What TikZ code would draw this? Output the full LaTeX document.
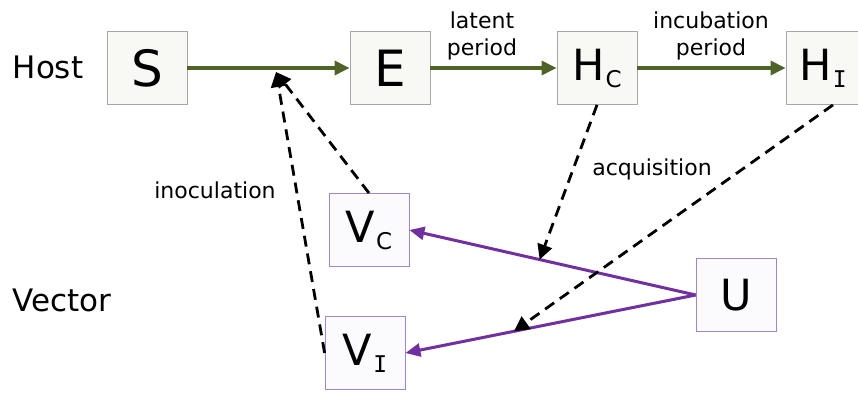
\documentclass[tikz,border=0pt]{standalone}
\usepackage{fontspec}
\setmainfont{DejaVu Sans}
\newfontfamily\subfont{DejaVu Sans Mono}
\usetikzlibrary{arrows.meta,calc}
\definecolor{hostgreen}{RGB}{79,98,40}
\definecolor{vecpurple}{RGB}{112,48,160}
\definecolor{vecedge}{RGB}{160,135,205}
\newcommand{\sbs}[1]{\kern1pt\raisebox{-7pt}{\fontsize{23}{23}\selectfont #1}}
\begin{document}
\begin{tikzpicture}[x=1pt,y=-1pt,
		box/.style={draw=gray!70,line width=0.8pt,fill={rgb,255:red,248;green,249;blue,244},minimum width=80pt,minimum height=73pt,inner sep=0pt,font=\fontsize{43}{43}\selectfont},
		vbox/.style={box,draw=vecedge,fill={rgb,255:red,251;green,250;blue,253}},
		host/.style={draw=hostgreen,line width=3.2pt,-{Triangle[length=15pt,width=14pt]}},
		vec/.style={draw=vecpurple,line width=3pt,-{Triangle[length=15pt,width=13pt]}},
		dashline/.style={draw=black,line width=2.8pt,dash pattern=on 11pt off 7pt,-{Triangle[length=15pt,width=15pt]}},
		note/.style={font=\fontsize{22}{27}\selectfont,align=center}]
	\useasboundingbox (0,0) rectangle (858,393);
	\node (host) at (48,67) {\fontsize{31}{31}\selectfont Host};
	\node (vector) at (62,300) {\fontsize{31}{31}\selectfont Vector};
	\node [box,font=\fontsize{50}{50}\selectfont] (S) at (147,68) {S};
	\node [box,font=\fontsize{50}{50}\selectfont] (E) at (390,68) {E};
	\node [box] (HC) at (597,68) {H\sbs{C}};
	\node [box,minimum width=74pt] (HI) at (823,68) {H\sbs{\subfont I}};
	\node [vbox] (VC) at (369,230) {V\sbs{C}};
	\node [vbox] (VI) at (365,353) {V\sbs{\subfont I}};
	\node [vbox] (U) at (736,295) {U};
	\node [note] (latent) at (482,36) {latent\\period};
	\node [note] (incub) at (711,36) {incubation\\period};
	\node [note] (inocl) at (215,190) {inoculation};
	\node [note] (acq) at (652,169) {acquisition};
	\draw [host] (S) -- (E);
	\draw [host] (E) -- (HC);
	\draw [host] (HC) -- (HI);
	\draw [vec] (U.west) -- (VC.east);
	\draw [vec] (U.west) -- (VI.east);
	\coordinate (inoc) at (276,72);
	\coordinate (acqC) at ($(U.west)!0.545!(VC.east)$);
	\coordinate (acqI) at ($(U.west)!0.626!(VI.east)$);
	\draw [dashline] (VC.north) -- (inoc);
	\draw [dashline] (VI.west) -- (inoc);
	\draw [dashline] (HC.south) -- (acqC);
	\draw [dashline] ($(HI.south)+(10,0)$) -- (acqI);
\end{tikzpicture}
\end{document}
